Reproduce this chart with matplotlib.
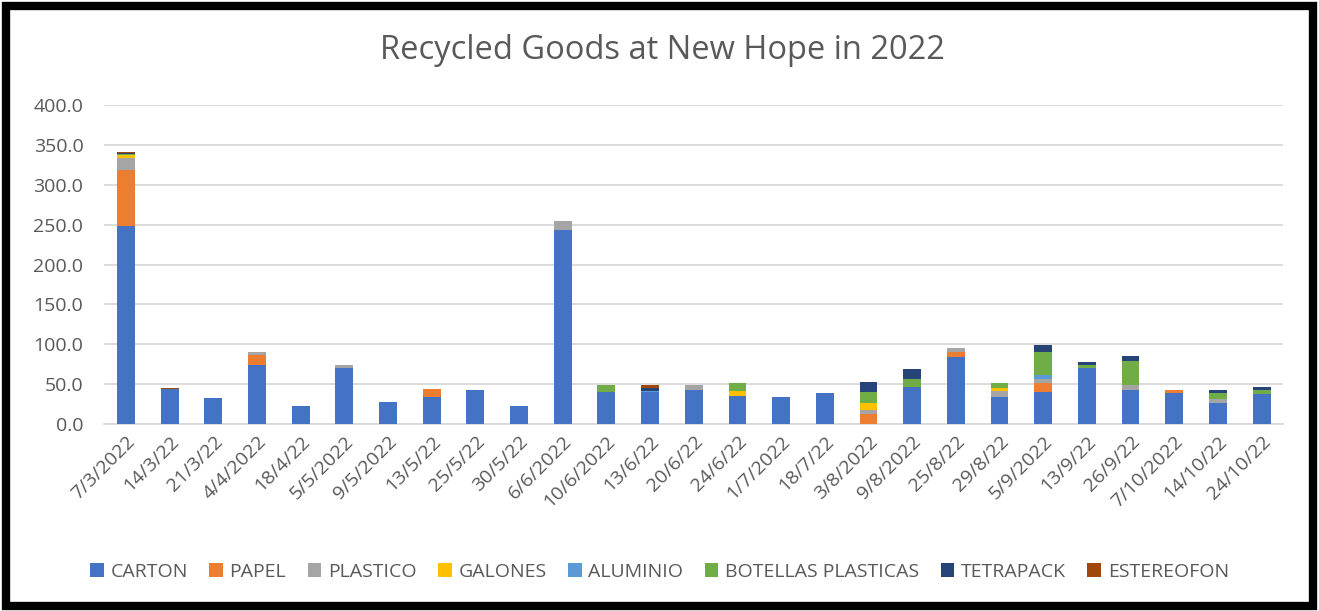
import numpy as np
import matplotlib.pyplot as plt
from matplotlib.patches import Rectangle

plt.rcParams['font.family'] = ['Open Sans', 'DejaVu Sans']

dates = ['7/3/2022', '14/3/22', '21/3/22', '4/4/2022', '18/4/22', '5/5/2022',
         '9/5/2022', '13/5/22', '25/5/22', '30/5/22', '6/6/2022', '10/6/2022',
         '13/6/22', '20/6/22', '24/6/22', '1/7/2022', '18/7/22', '3/8/2022',
         '9/8/2022', '25/8/22', '29/8/22', '5/9/2022', '13/9/22', '26/9/22',
         '7/10/2022', '14/10/22', '24/10/22']

carton = [248.0, 44.5, 32.6, 73.6, 23.2, 70.6, 27.2, 34.0, 42.1, 22.1, 243.7, 39.7,
          40.5, 42.2, 35.1, 34.3, 38.7, 0.0, 46.4, 83.8, 34.0, 40.0, 69.8, 42.1,
          38.7, 26.4, 37.6]
papel = [70.7, 0, 0, 13.4, 0, 0, 0, 10.2, 0, 0, 0, 0,
         0, 0, 0, 0, 0, 12.3, 0, 6.8, 0, 11.9, 0, 0,
         3.4, 0, 0]
plastico = [14.6, 0, 0, 3.8, 0, 3.8, 0, 0, 0, 0, 11.4, 0,
            0, 6.8, 0, 0, 0, 5.1, 0, 5.1, 7.7, 4.7, 0, 6.8,
            0, 5.5, 0]
galones = [3.5, 0, 0, 0, 0, 0, 0, 0, 0, 0, 0, 0,
           0, 0, 6.7, 0, 0, 8.5, 0, 0, 3.4, 0, 0, 0,
           0, 0, 0]
aluminio = [0.8, 0, 0, 0, 0, 0, 0, 0, 0, 0, 0, 0,
            0.5, 0, 0, 0, 0, 0, 0, 0, 0, 5.5, 0, 0,
            0, 0, 0.6]
botellas = [1.5, 0, 0, 0, 0, 0, 0, 0, 0, 0, 0, 9.3,
            0, 0, 9.7, 0, 0, 14.0, 10.2, 0, 6.8, 28.5, 4.7, 29.8,
            0, 6.4, 5.0]
tetrapack = [1.0, 0, 0, 0, 0, 0, 0, 0, 0, 0, 0, 0,
             4.5, 0, 0, 0, 0, 13.2, 11.9, 0, 0, 8.1, 3.8, 6.4,
             0, 4.3, 3.4]
estereofon = [1.5, 0.8, 0, 0, 0, 0, 0, 0, 0, 0, 0, 0,
              3.4, 0, 0, 0, 0, 0, 0, 0, 0, 0, 0, 0,
              0, 0, 0]

series = [('CARTON', carton, '#4472C4'),
          ('PAPEL', papel, '#ED7D31'),
          ('PLASTICO', plastico, '#A5A5A5'),
          ('GALONES', galones, '#FFC000'),
          ('ALUMINIO', aluminio, '#5B9BD5'),
          ('BOTELLAS PLASTICAS', botellas, '#70AD47'),
          ('TETRAPACK', tetrapack, '#264478'),
          ('ESTEREOFON', estereofon, '#9E480E')]

text_color = '#595959'
grid_color = '#D9D9D9'

fig = plt.figure(figsize=(13.19, 6.11), dpi=100)
ax = fig.add_axes([0.079, 0.306, 0.894, 0.522])

x = np.arange(len(dates))
bottom = np.zeros(len(dates))
for name, vals, col in series:
    vals = np.array(vals, dtype=float)
    ax.bar(x, vals, 0.41, bottom=bottom, color=col, label=name, zorder=3)
    bottom += vals

ax.set_xlim(-0.5, len(dates) - 0.5)
ax.set_ylim(0, 400)
ax.set_yticks(np.arange(0, 401, 50))
ax.set_yticklabels(['%.1f' % v for v in np.arange(0, 401, 50)])
ax.yaxis.grid(True, color=grid_color, linewidth=1.3, zorder=0)
ax.set_xticks(x)
ax.set_xticklabels(dates, rotation=45, ha='right', rotation_mode='anchor')
ax.tick_params(axis='both', length=0, labelsize=14, labelcolor=text_color)
ax.tick_params(axis='y', pad=15)
ax.tick_params(axis='x', pad=6)
for s in ['top', 'right', 'left']:
    ax.spines[s].set_visible(False)
ax.spines['bottom'].set_color(grid_color)
ax.spines['bottom'].set_linewidth(1.3)

fig.text(0.502, 0.917, 'Recycled Goods at New Hope in 2022', ha='center', va='center',
         fontsize=23.5, color=text_color)

leg = ax.legend(loc='center', bbox_to_anchor=(0.5, 0.064), bbox_transform=fig.transFigure,
                ncol=8, frameon=False, fontsize=14, handlelength=0.7, handleheight=0.7,
                handletextpad=0.35, columnspacing=1.1)
for t in leg.get_texts():
    t.set_color(text_color)

# thick black frame round the chart
fig.patches.append(Rectangle((0.0045, 0.008), 0.991, 0.982, transform=fig.transFigure,
                             fill=False, edgecolor='black', linewidth=6))

fig.savefig('out.png', dpi=100)
